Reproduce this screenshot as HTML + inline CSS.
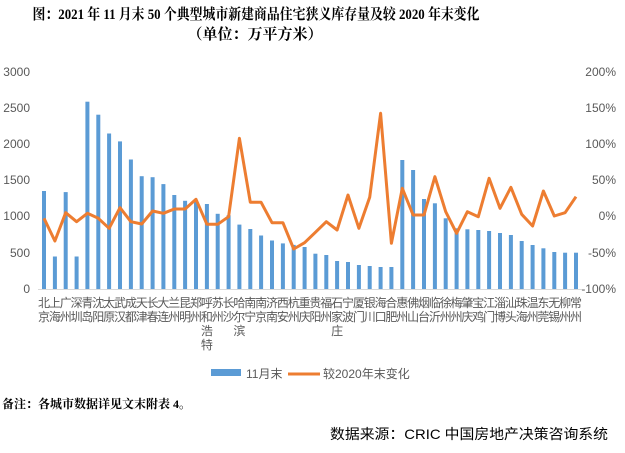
<!DOCTYPE html>
<html><head><meta charset="utf-8"><style>
body{margin:0;background:#fff;}
svg{display:block;font-family:"Liberation Sans","Noto Sans CJK SC",sans-serif;}
</style></head><body>
<svg width="625" height="453" viewBox="0 0 625 453" xmlns="http://www.w3.org/2000/svg">
<rect width="625" height="453" fill="#fff"/>
<g font-family="Liberation Serif,Noto Serif CJK SC,serif" font-weight="bold" font-size="15" text-anchor="middle" fill="#000">
<text x="256" y="19" textLength="447" lengthAdjust="spacingAndGlyphs">图：2021 年 11 月末 50 个典型城市新建商品住宅狭义库存量及较 2020 年末变化</text>
<text x="255" y="39">（单位：万平方米）</text>
</g>
<g font-size="12" fill="#595959" text-anchor="end">
<text x="30" y="76">3000</text><text x="30" y="112">2500</text><text x="30" y="148">2000</text><text x="30" y="184">1500</text><text x="30" y="220">1000</text><text x="30" y="257">500</text><text x="30" y="293">0</text>
</g>
<g font-size="12" fill="#595959" text-anchor="end">
<text x="616" y="76">200%</text><text x="616" y="112">150%</text><text x="616" y="148">100%</text><text x="616" y="184">50%</text><text x="616" y="220">0%</text><text x="616" y="257">-50%</text><text x="616" y="293">-100%</text>
</g>
<g fill="#5b9bd5">
<rect x="42" y="191" width="4" height="98"/><rect x="52.9" y="256.5" width="4" height="32.5"/><rect x="63.7" y="192.1" width="4" height="96.9"/><rect x="74.6" y="256.5" width="4" height="32.5"/><rect x="85.4" y="101.7" width="4" height="187.3"/><rect x="96.3" y="114.7" width="4" height="174.3"/><rect x="107.1" y="133.5" width="4" height="155.5"/><rect x="118" y="141.4" width="4" height="147.6"/><rect x="128.9" y="159.5" width="4" height="129.5"/><rect x="139.7" y="176.2" width="4" height="112.8"/><rect x="150.6" y="177.2" width="4" height="111.8"/><rect x="161.4" y="184.1" width="4" height="104.9"/><rect x="172.3" y="195" width="4" height="94"/><rect x="183.1" y="200.8" width="4" height="88.2"/><rect x="194" y="201.5" width="4" height="87.5"/><rect x="204.9" y="204" width="4" height="85"/><rect x="215.7" y="213.8" width="4" height="75.2"/><rect x="226.6" y="215.2" width="4" height="73.8"/><rect x="237.4" y="224.6" width="4" height="64.4"/><rect x="248.3" y="229" width="4" height="60"/><rect x="259.1" y="235.5" width="4" height="53.5"/><rect x="270" y="240.5" width="4" height="48.5"/><rect x="280.9" y="243.4" width="4" height="45.6"/><rect x="291.7" y="244.9" width="4" height="44.1"/><rect x="302.6" y="247" width="4" height="42"/><rect x="313.4" y="253.7" width="4" height="35.3"/><rect x="324.3" y="255" width="4" height="34"/><rect x="335.1" y="261" width="4" height="28"/><rect x="346" y="262" width="4" height="27"/><rect x="356.9" y="265" width="4" height="24"/><rect x="367.7" y="266" width="4" height="23"/><rect x="378.6" y="267" width="4" height="22"/><rect x="389.4" y="267" width="4" height="22"/><rect x="400.3" y="160" width="4" height="129"/><rect x="411.1" y="170" width="4" height="119"/><rect x="422" y="199" width="4" height="90"/><rect x="432.9" y="203.3" width="4" height="85.7"/><rect x="443.7" y="218.3" width="4" height="70.7"/><rect x="454.6" y="228.3" width="4" height="60.7"/><rect x="465.4" y="229.3" width="4" height="59.7"/><rect x="476.3" y="230" width="4" height="59"/><rect x="487.1" y="231" width="4" height="58"/><rect x="498" y="233" width="4" height="56"/><rect x="508.9" y="235" width="4" height="54"/><rect x="519.7" y="241" width="4" height="48"/><rect x="530.6" y="245" width="4" height="44"/><rect x="541.4" y="248.3" width="4" height="40.7"/><rect x="552.3" y="252" width="4" height="37"/><rect x="563.1" y="252.7" width="4" height="36.3"/><rect x="574" y="252.7" width="4" height="36.3"/>
</g>
<line x1="38" y1="289.5" x2="582" y2="289.5" stroke="#d9d9d9" stroke-width="1"/>
<polyline fill="none" stroke="#ed7d31" stroke-width="3" stroke-linejoin="round" points="44,218.3 54.9,241 65.7,212.7 76.6,221.7 87.4,213.3 98.3,218.3 109.1,228.3 120,207.7 130.9,221.7 141.7,224 152.6,211 163.4,213.3 174.3,209 185.1,209 196,199.3 206.9,224.3 217.7,224.3 228.6,216.7 239.4,138.3 250.3,202.3 261.1,202.3 272,222.7 282.9,222.7 293.7,249 304.6,242.7 315.4,232.3 326.3,221.7 337.1,230 348,195 358.9,228.3 369.7,197.3 380.6,113.3 391.4,243.3 402.3,188.3 413.1,215 424,215 434.9,176.7 445.7,211.7 456.6,233.3 467.4,211.7 478.3,216.7 489.1,178.3 500,208.3 510.9,187.3 521.7,214.3 532.6,226 543.4,191 554.3,216 565.1,212.7 576,196.7"/>
<g font-size="12" fill="#595959" text-anchor="middle">
<text x="44" y="307">北<tspan x="44" dy="14">京</tspan></text>
<text x="54.9" y="307">上<tspan x="54.9" dy="14">海</tspan></text>
<text x="65.7" y="307">广<tspan x="65.7" dy="14">州</tspan></text>
<text x="76.6" y="307">深<tspan x="76.6" dy="14">圳</tspan></text>
<text x="87.4" y="307">青<tspan x="87.4" dy="14">岛</tspan></text>
<text x="98.3" y="307">沈<tspan x="98.3" dy="14">阳</tspan></text>
<text x="109.1" y="307">太<tspan x="109.1" dy="14">原</tspan></text>
<text x="120" y="307">武<tspan x="120" dy="14">汉</tspan></text>
<text x="130.9" y="307">成<tspan x="130.9" dy="14">都</tspan></text>
<text x="141.7" y="307">天<tspan x="141.7" dy="14">津</tspan></text>
<text x="152.6" y="307">长<tspan x="152.6" dy="14">春</tspan></text>
<text x="163.4" y="307">大<tspan x="163.4" dy="14">连</tspan></text>
<text x="174.3" y="307">兰<tspan x="174.3" dy="14">州</tspan></text>
<text x="185.1" y="307">昆<tspan x="185.1" dy="14">明</tspan></text>
<text x="196" y="307">郑<tspan x="196" dy="14">州</tspan></text>
<text x="206.9" y="307">呼<tspan x="206.9" dy="14">和</tspan><tspan x="206.9" dy="14">浩</tspan><tspan x="206.9" dy="14">特</tspan></text>
<text x="217.7" y="307">苏<tspan x="217.7" dy="14">州</tspan></text>
<text x="228.6" y="307">长<tspan x="228.6" dy="14">沙</tspan></text>
<text x="239.4" y="307">哈<tspan x="239.4" dy="14">尔</tspan><tspan x="239.4" dy="14">滨</tspan></text>
<text x="250.3" y="307">南<tspan x="250.3" dy="14">宁</tspan></text>
<text x="261.1" y="307">南<tspan x="261.1" dy="14">京</tspan></text>
<text x="272" y="307">济<tspan x="272" dy="14">南</tspan></text>
<text x="282.9" y="307">西<tspan x="282.9" dy="14">安</tspan></text>
<text x="293.7" y="307">杭<tspan x="293.7" dy="14">州</tspan></text>
<text x="304.6" y="307">重<tspan x="304.6" dy="14">庆</tspan></text>
<text x="315.4" y="307">贵<tspan x="315.4" dy="14">阳</tspan></text>
<text x="326.3" y="307">福<tspan x="326.3" dy="14">州</tspan></text>
<text x="337.1" y="307">石<tspan x="337.1" dy="14">家</tspan><tspan x="337.1" dy="14">庄</tspan></text>
<text x="348" y="307">宁<tspan x="348" dy="14">波</tspan></text>
<text x="358.9" y="307">厦<tspan x="358.9" dy="14">门</tspan></text>
<text x="369.7" y="307">银<tspan x="369.7" dy="14">川</tspan></text>
<text x="380.6" y="307">海<tspan x="380.6" dy="14">口</tspan></text>
<text x="391.4" y="307">合<tspan x="391.4" dy="14">肥</tspan></text>
<text x="402.3" y="307">惠<tspan x="402.3" dy="14">州</tspan></text>
<text x="413.1" y="307">佛<tspan x="413.1" dy="14">山</tspan></text>
<text x="424" y="307">烟<tspan x="424" dy="14">台</tspan></text>
<text x="434.9" y="307">临<tspan x="434.9" dy="14">沂</tspan></text>
<text x="445.7" y="307">徐<tspan x="445.7" dy="14">州</tspan></text>
<text x="456.6" y="307">梅<tspan x="456.6" dy="14">州</tspan></text>
<text x="467.4" y="307">肇<tspan x="467.4" dy="14">庆</tspan></text>
<text x="478.3" y="307">宝<tspan x="478.3" dy="14">鸡</tspan></text>
<text x="489.1" y="307">江<tspan x="489.1" dy="14">门</tspan></text>
<text x="500" y="307">淄<tspan x="500" dy="14">博</tspan></text>
<text x="510.9" y="307">汕<tspan x="510.9" dy="14">头</tspan></text>
<text x="521.7" y="307">珠<tspan x="521.7" dy="14">海</tspan></text>
<text x="532.6" y="307">温<tspan x="532.6" dy="14">州</tspan></text>
<text x="543.4" y="307">东<tspan x="543.4" dy="14">莞</tspan></text>
<text x="554.3" y="307">无<tspan x="554.3" dy="14">锡</tspan></text>
<text x="565.1" y="307">柳<tspan x="565.1" dy="14">州</tspan></text>
<text x="576" y="307">常<tspan x="576" dy="14">州</tspan></text>
</g>
<rect x="211" y="369" width="30" height="7" fill="#5b9bd5"/>
<text x="246" y="378" font-size="12" fill="#595959">11月末</text>
<line x1="288" y1="374" x2="320" y2="374" stroke="#ed7d31" stroke-width="3"/>
<text x="323" y="378" font-size="12" fill="#595959">较2020年末变化</text>
<text x="2" y="408" font-size="12" font-weight="bold" font-family="Liberation Serif,Noto Serif CJK SC,serif" fill="#000">备注：各城市数据详见文末附表 4。</text>
<text x="330" y="439" font-size="14" fill="#000" textLength="278" lengthAdjust="spacingAndGlyphs">数据来源：CRIC 中国房地产决策咨询系统</text>
</svg>
</body></html>
